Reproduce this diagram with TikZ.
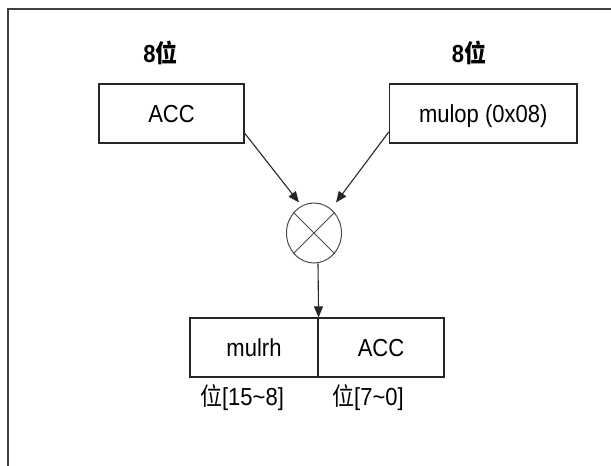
\documentclass[tikz,border=0pt]{standalone}
\usepackage{fontspec}
\usepackage{graphicx}
\setmainfont{Liberation Sans}
\newfontfamily\cjk{Noto Sans CJK SC}
\newcommand{\tallt}[1]{\scalebox{1}[1.12]{#1}}
\usetikzlibrary{shapes.geometric,arrows.meta,calc}
\begin{document}
\begin{tikzpicture}[x=1pt,y=-1pt,
  txt/.style={font=\fontsize{22}{26}\selectfont,inner sep=0pt,text height=17.7pt,text depth=0pt},
  box/.style={txt,draw=black!85,line width=1.2pt,minimum height=59pt},
  lbl/.style={txt},
  arr/.style={draw=black!85,line width=1.1pt,-{Triangle[length=11pt,width=9pt]}}]
\useasboundingbox (0,0) rectangle (611,466);
\draw[black!75,line width=1.2pt] (8,466) -- (8,9) -- (611,9);
\node[box,minimum width=145pt] (acc) at (171.5,113.5) {\tallt{ACC}};
\node[box,minimum width=187.5pt] (mulop) at (483.25,113.5) {\tallt{mulop (0x08)}};
\node[draw=black!70,ellipse,minimum width=55pt,minimum height=60pt,inner sep=0pt,line width=1pt] (mul) at (314,233) {};
\draw[black!70,line width=1pt] (mul.45) -- (mul.225) (mul.135) -- (mul.315);
\node[box,minimum width=128pt] (hi) at (254,347.5) {\tallt{mulrh}};
\node[box,minimum width=126pt] (lo) at (381,347.5) {\tallt{ACC}};
\node[lbl,font=\fontsize{22}{26}\selectfont\bfseries] (b1) at (160.5,54) {\tallt{8{\cjk 位}}};
\node[lbl,font=\fontsize{22}{26}\selectfont\bfseries] (b2) at (469,54) {\tallt{8{\cjk 位}}};
\node[lbl] (l1) at (242,397) {\tallt{{\cjk 位}[15\textasciitilde 8]}};
\node[lbl] (l2) at (368,397) {\tallt{{\cjk 位}[7\textasciitilde 0]}};
\coordinate (t1) at ($(mul.north)+(-15,0)$);
\coordinate (t2) at ($(mul.north)+(22,0)$);
\coordinate (s3) at ($(mul.south)+(4,0)$);
\draw[arr] (acc.-15) -- (t1);
\draw[arr] (mulop.191.8) -- (t2);
\draw[arr] (s3) -- (hi.north east);
\end{tikzpicture}
\end{document}
